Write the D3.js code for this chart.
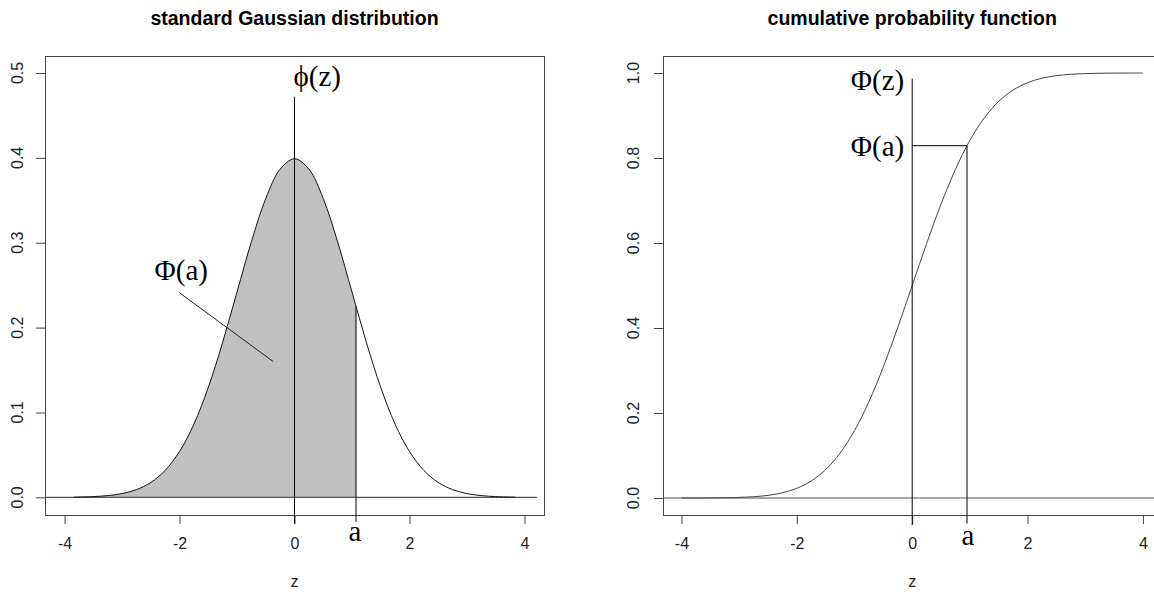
<!DOCTYPE html>
<html><head><meta charset="utf-8">
<script src="https://cdn.jsdelivr.net/npm/d3@7"></script>
<style>body{margin:0;background:#fff} svg{display:block}</style>
</head><body>
<svg id="c" width="1154" height="592"></svg>
<script>
// ---- data ----
const zGrid = [-3.84,-3.75,-3.5,-3.25,-3,-2.75,-2.5,-2.25,-2,-1.75,-1.5,-1.25,-1,-0.75,-0.5,-0.25,0,
               0.25,0.5,0.75,1,1.25,1.5,1.75,2,2.25,2.5,2.75,3,3.25,3.5,3.75,3.84];
const density = [0.00025,0.00035,0.00087,0.00203,0.00443,0.00909,0.01753,0.03174,0.05399,0.08628,0.12952,0.18265,0.24197,0.30114,0.35207,0.38667,0.39894,
                 0.38667,0.35207,0.30114,0.24197,0.18265,0.12952,0.08628,0.05399,0.03174,0.01753,0.00909,0.00443,0.00203,0.00087,0.00035,0.00025];
const zCdf = [-4,-3.75,-3.5,-3.25,-3,-2.75,-2.5,-2.25,-2,-1.75,-1.5,-1.25,-1,-0.75,-0.5,-0.25,0,
              0.25,0.5,0.75,1,1.25,1.5,1.75,2,2.25,2.5,2.75,3,3.25,3.5,3.75,4];
const cumulative = [0.00003,0.00009,0.00023,0.00058,0.00135,0.00298,0.00621,0.01222,0.02275,0.04006,0.06681,0.10565,0.15866,0.22663,0.30854,0.40129,0.5,
                    0.59871,0.69146,0.77337,0.84134,0.89435,0.93319,0.95994,0.97725,0.98778,0.99379,0.99702,0.99865,0.99942,0.99977,0.99991,0.99997];
const aLeft = 1.07, densityAtA = 0.22506;
const aRight = 0.95, cdfAtA = 0.82894;
const xTicks = [-4,-2,0,2,4];
const yTicksLeft = [0,0.1,0.2,0.3,0.4,0.5];
const yTicksRight = [0,0.2,0.4,0.6,0.8,1.0];
const titles = ["standard Gaussian distribution","cumulative probability function"];
const xLabel = "z";

// ---- layout ----
const svg = d3.select("#c");
const plotTop = 56, plotBottom = 515;
const xL = d3.scaleLinear().domain([-4.34,4.34]).range([45,544]);
const yL = d3.scaleLinear().domain([-0.0208,0.52]).range([plotBottom,plotTop]);
const xR = d3.scaleLinear().domain([-4.32,4.32]).range([663,1161.4]);
const yR = d3.scaleLinear().domain([-0.04,1.04]).range([plotBottom,plotTop]);

const sans = "Liberation Sans, Arial, sans-serif";
const serif = "Liberation Serif, DejaVu Serif, Times New Roman, serif";
const tickFont = 16, mathFont = 29;

function frame(x, y, yTicks, labelX, title){
  const g = svg.append("g");
  const [x0,x1] = x.range();
  g.append("rect").attr("x",x0+0.5).attr("y",plotTop+0.5).attr("width",x1-x0).attr("height",plotBottom-plotTop)
    .attr("fill","none").attr("stroke","#444").attr("stroke-width",1);
  const ax = g.append("g").attr("transform",`translate(0,${plotBottom})`)
    .call(d3.axisBottom(x).tickValues(xTicks).tickSize(9).tickPadding(14).tickFormat(d=>String(d)));
  ax.select(".domain").remove();
  ax.selectAll("line").attr("stroke","#444");
  ax.selectAll("text").attr("font-family",sans).attr("font-size",tickFont).attr("fill","#222");
  const ay = g.append("g").attr("transform",`translate(${x0},0)`)
    .call(d3.axisLeft(y).tickValues(yTicks).tickSize(9).tickFormat(""));
  ay.select(".domain").remove();
  ay.selectAll("line").attr("stroke","#444");
  g.selectAll(".ylab").data(yTicks).join("text")
    .attr("transform",d=>`translate(${labelX},${y(d)}) rotate(-90)`)
    .attr("text-anchor","middle").attr("font-family",sans).attr("font-size",tickFont).attr("fill","#222")
    .text(d=>d3.format(".1f")(d));
  const cx = (x0+x1)/2;
  g.append("text").attr("x",cx).attr("y",25).attr("text-anchor","middle")
    .attr("font-family",sans).attr("font-weight","bold").attr("font-size",19.5).attr("fill","#000").text(title);
  g.append("text").attr("x",x(0)).attr("y",587).attr("text-anchor","middle")
    .attr("font-family",sans).attr("font-size",tickFont).attr("fill","#222").text(xLabel);
}

// ---- left panel ----
frame(xL, yL, yTicksLeft, 23, titles[0]);
const pdfPts = zGrid.map((z,i)=>[z,density[i]]);
const shadePts = pdfPts.filter(p=>p[0]<aLeft).concat([[aLeft,densityAtA]]);
const curve = d3.curveCatmullRom.alpha(0.5);
svg.append("path").datum(shadePts)
  .attr("d", d3.area().x(d=>xL(d[0])).y0(yL(0)).y1(d=>yL(d[1])).curve(curve))
  .attr("fill","#c0c0c0").attr("stroke","none");
svg.append("line").attr("x1",xL.range()[0]).attr("x2",xL(4.22)).attr("y1",yL(0)).attr("y2",yL(0))
  .attr("stroke","#555").attr("stroke-width",1.2);
svg.append("path").datum(pdfPts)
  .attr("d", d3.line().x(d=>xL(d[0])).y(d=>yL(d[1])).curve(curve))
  .attr("fill","none").attr("stroke","#111").attr("stroke-width",1);
svg.append("line").attr("x1",xL(0)).attr("x2",xL(0)).attr("y1",yL(-0.031)).attr("y2",yL(0.472)).attr("stroke","#000");
svg.append("line").attr("x1",xL(aLeft)).attr("x2",xL(aLeft)).attr("y1",yL(-0.029)).attr("y2",yL(densityAtA)).attr("stroke","#000");
svg.append("line").attr("x1",xL(-2.0)).attr("y1",yL(0.241)).attr("x2",xL(-0.37)).attr("y2",yL(0.16)).attr("stroke","#222");
svg.append("text").attr("x",xL(-1.97)).attr("y",yL(0.266)+8).attr("text-anchor","middle")
  .attr("font-family",serif).attr("font-size",mathFont).attr("fill","#000").text("\u03A6(a)");
svg.append("text").attr("x",xL(0)-1).attr("y",yL(0.494)+8).attr("text-anchor","start")
  .attr("font-family",serif).attr("font-size",mathFont).attr("fill","#000").text("\u03D5(z)");
svg.append("text").attr("x",xL(aLeft)-1).attr("y",541).attr("text-anchor","middle")
  .attr("font-family",serif).attr("font-size",mathFont).attr("fill","#000").text("a");

// ---- right panel ----
frame(xR, yR, yTicksRight, 639, titles[1]);
svg.append("line").attr("x1",xR.range()[0]).attr("x2",1160).attr("y1",yR(0)).attr("y2",yR(0))
  .attr("stroke","#555").attr("stroke-width",1.2);
const cdfPts = zCdf.map((z,i)=>[z,cumulative[i]]);
svg.append("path").datum(cdfPts)
  .attr("d", d3.line().x(d=>xR(d[0])).y(d=>yR(d[1])).curve(curve))
  .attr("fill","none").attr("stroke","#444").attr("stroke-width",1);
svg.append("line").attr("x1",xR(0)).attr("x2",xR(0)).attr("y1",yR(-0.064)).attr("y2",yR(0.987)).attr("stroke","#000");
svg.append("line").attr("x1",xR(aRight)).attr("x2",xR(aRight)).attr("y1",yR(-0.06)).attr("y2",yR(cdfAtA)).attr("stroke","#000");
svg.append("line").attr("x1",xR(0)).attr("x2",xR(aRight)).attr("y1",yR(cdfAtA)).attr("y2",yR(cdfAtA)).attr("stroke","#000");
svg.append("text").attr("x",xR(0)-8).attr("y",yR(0.978)+8).attr("text-anchor","end")
  .attr("font-family",serif).attr("font-size",mathFont).attr("fill","#000").text("\u03A6(z)");
svg.append("text").attr("x",xR(0)-8).attr("y",yR(cdfAtA)+10).attr("text-anchor","end")
  .attr("font-family",serif).attr("font-size",mathFont).attr("fill","#000").text("\u03A6(a)");
svg.append("text").attr("x",xR(aRight)+1).attr("y",545).attr("text-anchor","middle")
  .attr("font-family",serif).attr("font-size",mathFont).attr("fill","#000").text("a");
</script>
</body></html>
